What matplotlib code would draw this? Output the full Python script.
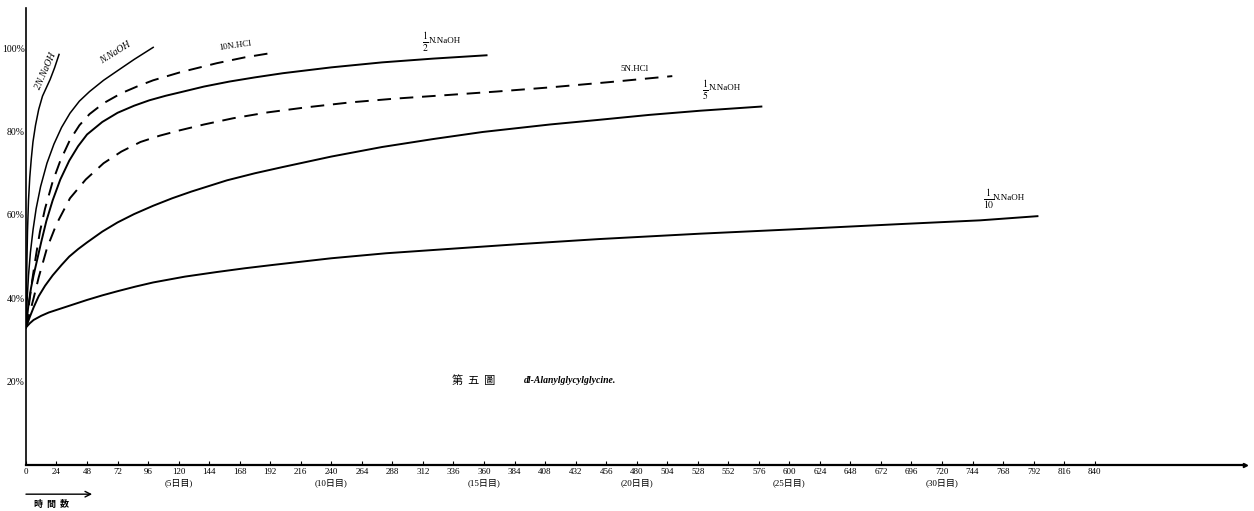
import matplotlib
matplotlib.use("Agg")
from matplotlib import pyplot as plt
from matplotlib.transforms import offset_copy

# hours, percent hydrolysed
h_2n_naoh = [0, 0.3, 0.7, 1.2, 2, 3, 4.2, 5.5, 7.5, 10, 13, 16, 19, 22.5, 26]
v_2n_naoh = [33, 40, 48, 56, 63.5, 69, 73.5, 77.5, 81.5, 85.3, 88.5, 90.5, 92.5, 95.3, 98.5]

h_n_naoh = [0, 1, 2, 3.5, 5.6, 8, 11.5, 16.5, 22, 28, 34.6, 42, 50, 61, 72, 85, 100]
v_n_naoh = [33, 40, 45.5, 51, 56.5, 61.5, 66.8, 72.4, 77, 81, 84.4, 87.3, 89.6, 92.3, 94.6, 97.3, 100.2]

h_10n_hcl = [0, 1.5, 3, 5, 8, 11, 15, 21, 27, 34.6, 42, 50, 61, 75, 88, 100, 121, 150, 172, 192]
v_10n_hcl = [33, 36.5, 40, 44.5, 50.5, 56, 61.5, 68, 73, 78, 81.5, 84.2, 86.8, 89.2, 90.9, 92.3, 94.2, 96.4, 97.8, 98.8]

h_half_naoh = [0, 2, 4, 6, 9, 12, 16, 21, 27, 34, 41, 48, 60, 72, 85, 97, 110, 121, 140, 160, 180,
               202, 240, 280, 320, 362]
v_half_naoh = [33, 38.5, 42.5, 45.5, 49.5, 53.5, 58.5, 63.5, 68.5, 73, 76.5, 79.3, 82.3, 84.5, 86.2,
               87.5, 88.6, 89.4, 90.8, 92, 93, 94, 95.4, 96.6, 97.5, 98.3]

h_5n_hcl = [0, 3, 6, 10, 16.5, 24, 34.6, 47, 61, 75, 90, 105, 121, 140, 163, 190, 220, 255, 290,
            333, 370, 412, 460, 508]
v_5n_hcl = [33, 36.5, 40, 45, 52, 57.8, 64, 68.5, 72.4, 75.2, 77.5, 79, 80.3, 81.7, 83.2, 84.6,
            85.8, 87, 87.9, 88.8, 89.6, 90.6, 91.9, 93.3]

h_fifth_naoh = [0, 3, 6, 10, 15, 21, 28, 34, 41, 48, 60, 72, 85, 100, 115, 130, 158, 180, 202, 240,
                280, 320, 359, 412, 450, 490, 530, 578]
v_fifth_naoh = [33, 35.5, 37.8, 40.5, 43, 45.5, 48, 50, 51.8, 53.4, 56, 58.2, 60.2, 62.2, 64, 65.6,
                68.3, 70, 71.5, 74, 76.3, 78.2, 79.9, 81.7, 82.8, 84, 85, 86]

h_tenth_naoh = [0, 3, 6, 12, 18, 24, 35, 48, 60, 72, 86, 100, 125, 150, 172, 194, 240, 283, 340,
                388, 450, 530, 600, 687, 750, 795]
v_tenth_naoh = [33, 34, 34.8, 35.8, 36.6, 37.2, 38.3, 39.6, 40.7, 41.7, 42.8, 43.8, 45.2, 46.3,
                47.2, 48, 49.6, 50.8, 52, 53, 54.2, 55.5, 56.5, 57.8, 58.7, 59.7]

x_ticks = list(range(0, 841, 24))
y_ticks = [20, 40, 60, 80, 100]
y_tick_labels = ['20%', '40%', '60%', '80%', '100%']
day_hours = [120, 240, 360, 480, 600, 720]
day_labels = ['(5日目)', '(10日目)', '(15日目)', '(20日目)', '(25日目)', '(30日目)']

plt.rcParams['font.family'] = ['Liberation Serif', 'Noto Sans CJK JP']
plt.rcParams['mathtext.fontset'] = 'stix'

fig = plt.figure(figsize=(12.54, 5.11), dpi=100)
ax = fig.add_axes([0.0207, 0.090, 0.972, 0.894])

dash = (0, (7, 4.5))
lw = 1.4
ax.plot(h_2n_naoh, v_2n_naoh, color='black', lw=1.1)
ax.plot(h_n_naoh, v_n_naoh, color='black', lw=1.1)
ax.plot(h_10n_hcl, v_10n_hcl, color='black', lw=lw, linestyle=dash)
ax.plot(h_half_naoh, v_half_naoh, color='black', lw=lw)
ax.plot(h_5n_hcl, v_5n_hcl, color='black', lw=lw, linestyle=dash)
ax.plot(h_fifth_naoh, v_fifth_naoh, color='black', lw=lw)
ax.plot(h_tenth_naoh, v_tenth_naoh, color='black', lw=lw)

# curve labels
ax.text(15.5, 94.5, '2N.NaOH', fontsize=7, style='italic', rotation=66, ha='center', va='center')
ax.text(70, 99, 'N.NaOH', fontsize=7, style='italic', rotation=32, ha='center', va='center')
ax.text(164, 100.5, '10N.HCl', fontsize=6.5, rotation=8, ha='center', va='center')
ax.text(478, 95, '5N.HCl', fontsize=6.5, ha='center', va='center')

frac_labels = [(311, 101.4, '2'), (531, 90, '5'), (752, 63.8, '10')]
for hr, val, den in frac_labels:
    ax.text(hr, val, r'$\frac{1}{%s}$' % den, fontsize=10, ha='left', va='center')
    ax.annotate('N.NaOH', xy=(hr, val), xycoords='data',
                xytext=(5 if den != '10' else 7.5, 1), textcoords='offset points',
                fontsize=6.5, ha='left', va='center')

ax.text(335, 20.3, '第  五  圖', fontsize=8, family='Noto Sans CJK JP', ha='left', va='center')
ax.text(391, 20.3, 'dl-Alanylglycylglycine.', fontsize=7, style='italic', weight='bold',
        ha='left', va='center')

ax.set_xlim(0, 958)
ax.set_ylim(0, 109.6)
ax.spines['top'].set_visible(False)
ax.spines['right'].set_visible(False)
ax.spines['left'].set_linewidth(1.2)
ax.spines['bottom'].set_linewidth(1.6)
ax.plot(1, 0, '>', color='black', ms=3, transform=ax.transAxes, clip_on=False)

ax.set_xticks(x_ticks)
ax.set_xticklabels([str(t) for t in x_ticks], fontsize=6.5)
ax.tick_params(axis='x', direction='in', length=3, pad=2)
ax.set_yticks(y_ticks)
ax.set_yticklabels(y_tick_labels, fontsize=7)
ax.tick_params(axis='y', length=0, pad=1)

for hr, lab in zip(day_hours, day_labels):
    ax.annotate(lab, xy=(hr, 0), xycoords='data', xytext=(0, -12.5), textcoords='offset points',
                fontsize=6.5, ha='center', va='center', annotation_clip=False)

# "number of hours" arrow under the axis
below = offset_copy(ax.transData, fig=fig, y=-21, units='points')
ax.annotate('', xy=(52, 0), xycoords=below, xytext=(0, 0), textcoords=below,
            arrowprops=dict(arrowstyle='->', lw=1.0, color='black', shrinkA=0, shrinkB=0),
            annotation_clip=False)
ax.annotate('時  間  数', xy=(20, 0), xycoords='data', xytext=(0, -28.5), textcoords='offset points',
            fontsize=6.5, ha='center', va='center', family='Noto Sans CJK JP', weight='bold',
            annotation_clip=False)

fig.savefig('out.png', dpi=100)
